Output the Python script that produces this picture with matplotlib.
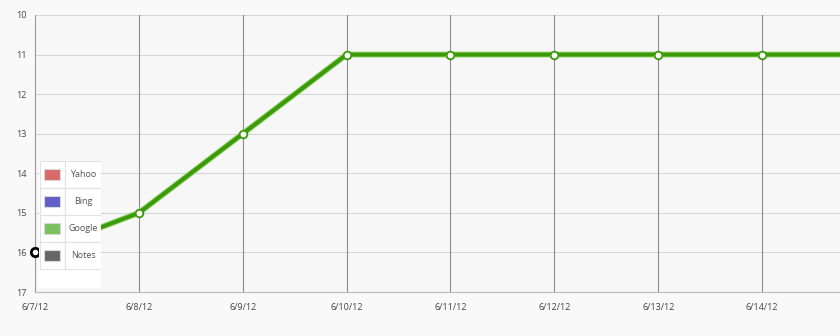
import matplotlib
matplotlib.use("Agg")
import matplotlib.pyplot as plt
from matplotlib.patches import Rectangle

dates = ["6/7/12", "6/8/12", "6/9/12", "6/10/12", "6/11/12", "6/12/12", "6/13/12", "6/14/12", "6/15/12"]
google_rank = [16, 15, 13, 11, 11, 11, 11, 11, 11]
note_dates = ["6/7/12"]
note_rank = [16]
y_ticks = [10, 11, 12, 13, 14, 15, 16, 17]
legend_names = ["Yahoo", "Bing", "Google", "Notes"]
legend_colors = ["#d96a6a", "#5f5fc6", "#7cc05f", "#666666"]

W, H = 840, 336
fig = plt.figure(figsize=(W / 100, H / 100), dpi=100, facecolor="#f9f9f9")
plt.rcParams["font.family"] = ["Open Sans", "DejaVu Sans"]

def px_rect(x0, y0, x1, y1):
    return [x0 / W, 1 - y1 / H, (x1 - x0) / W, (y1 - y0) / H]

ax = fig.add_axes(px_rect(35, 15, 840, 292))
ax.set_facecolor("#f7f7f7")
xs = list(range(len(dates)))
pos = {d: i for i, d in enumerate(dates)}

ax.set_ylim(17, 10)
ax.set_xlim(0, 7.75)
ax.set_yticks(y_ticks)
ax.set_xticks(xs[:8])
ax.set_xticklabels(dates[:8])
ax.tick_params(length=0, labelsize=6.5, colors="#444444", pad=8)
ax.tick_params(axis="y", pad=6)
for t in ax.get_xticklabels():
    t.set_horizontalalignment("center")
for y in y_ticks:
    ax.axhline(y, color="#d6d6d6", lw=0.8, zorder=1)
for x in xs[1:8]:
    ax.axvline(x, color="#8c8c8c", lw=0.8, zorder=1)
for s in ["top", "right"]:
    ax.spines[s].set_visible(False)
ax.spines["left"].set_color("#9a9a9a")
ax.spines["bottom"].set_color("#bdbdbd")
ax.spines["left"].set_linewidth(0.8)
ax.spines["bottom"].set_linewidth(0.8)

ax.plot(xs, google_rank, color="#8fd06a", lw=4.2, solid_capstyle="butt", zorder=3)
ax.plot(xs, google_rank, color="#3a9a08", lw=2.8, zorder=4,
        marker="o", ms=5.5, mfc="white", mec="#3a9a08", mew=1.3)
ax.plot([pos[d] for d in note_dates], note_rank, linestyle="none", marker="o", ms=6,
        mfc="white", mec="black", mew=2, zorder=6, clip_on=False)

# legend panel
lax = fig.add_axes(px_rect(39, 161, 101, 288))
lax.set_xlim(39, 101)
lax.set_ylim(288, 161)
lax.axis("off")
lax.add_patch(Rectangle((39, 161), 62, 127, facecolor="white", edgecolor="none", zorder=1))
row_h = 27
for i, (name, col) in enumerate(zip(legend_names, legend_colors)):
    y0 = 161 + i * row_h
    lax.add_patch(Rectangle((39.5, y0), 25, row_h, facecolor="none", edgecolor="#e2e2e2", lw=0.8, zorder=2))
    lax.add_patch(Rectangle((64.5, y0), 36, row_h, facecolor="none", edgecolor="#e2e2e2", lw=0.8, zorder=2))
    lax.add_patch(Rectangle((44, y0 + 8), 16, 11, facecolor=col, edgecolor="#d8d8d8", lw=0.8, zorder=3))
    lax.text(83, y0 + row_h / 2, name, ha="center", va="center", fontsize=6.5, color="#555555", zorder=4)

fig.savefig("out.png", dpi=100, facecolor=fig.get_facecolor())
